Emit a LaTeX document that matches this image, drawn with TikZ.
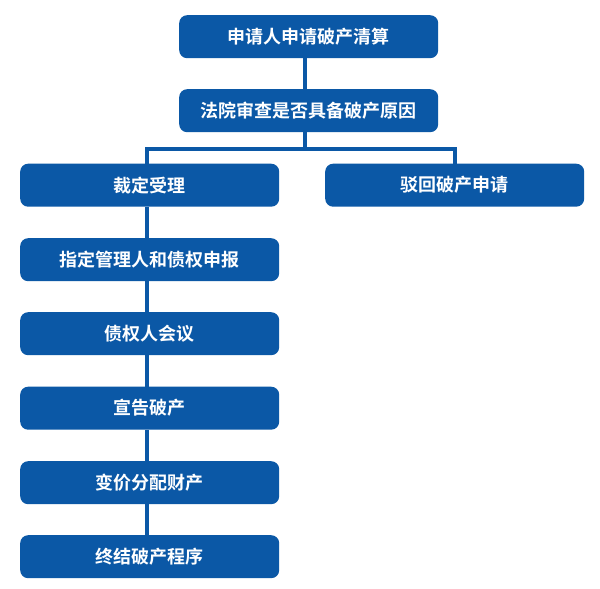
\documentclass[tikz,border=0pt]{standalone}
\usepackage{fontspec}
\setmainfont{Noto Sans CJK SC}[BoldFont={* Bold}]
\definecolor{boxblue}{RGB}{11,88,166}
\begin{document}
\begin{tikzpicture}[x=1pt,y=-1pt,
  stepbox/.style={draw=none,fill=boxblue,rounded corners=8pt,minimum width=259pt,minimum height=43pt,
    text=white,font=\fontsize{18}{20}\selectfont\bfseries,inner sep=0pt,anchor=north west},
  conn/.style={draw=boxblue,line width=3.2pt}]
\useasboundingbox[fill=white] (0,0) rectangle (600,589);
\node[stepbox] (a) at (179,15) {申请人申请破产清算};
\node[stepbox] (b) at (179,89) {法院审查是否具备破产原因};
\node[stepbox] (c) at (20,163.5) {裁定受理};
\node[stepbox] (r) at (325,163.5) {驳回破产申请};
\node[stepbox] (d) at (20,238) {指定管理人和债权申报};
\node[stepbox] (e) at (20,312) {债权人会议};
\node[stepbox] (f) at (20,386.5) {宣告破产};
\node[stepbox] (g) at (20,461) {变价分配财产};
\node[stepbox] (h) at (20,535) {终结破产程序};
\coordinate (j) at (305,149);
\coordinate (jl) at (147,149);
\coordinate (jr) at (455,149);
\draw[conn] (j |- a.south) -- (j |- b.north);
\draw[conn] (j |- b.south) -- (j);
\draw[conn] (jl |- c.north) -- (jl) -- (jr) -- (jr |- r.north);
\draw[conn] (jl |- c.south) -- (jl |- d.north);
\draw[conn] (jl |- d.south) -- (jl |- e.north);
\draw[conn] (jl |- e.south) -- (jl |- f.north);
\draw[conn] (jl |- f.south) -- (jl |- g.north);
\draw[conn] (jl |- g.south) -- (jl |- h.north);
\end{tikzpicture}
\end{document}
